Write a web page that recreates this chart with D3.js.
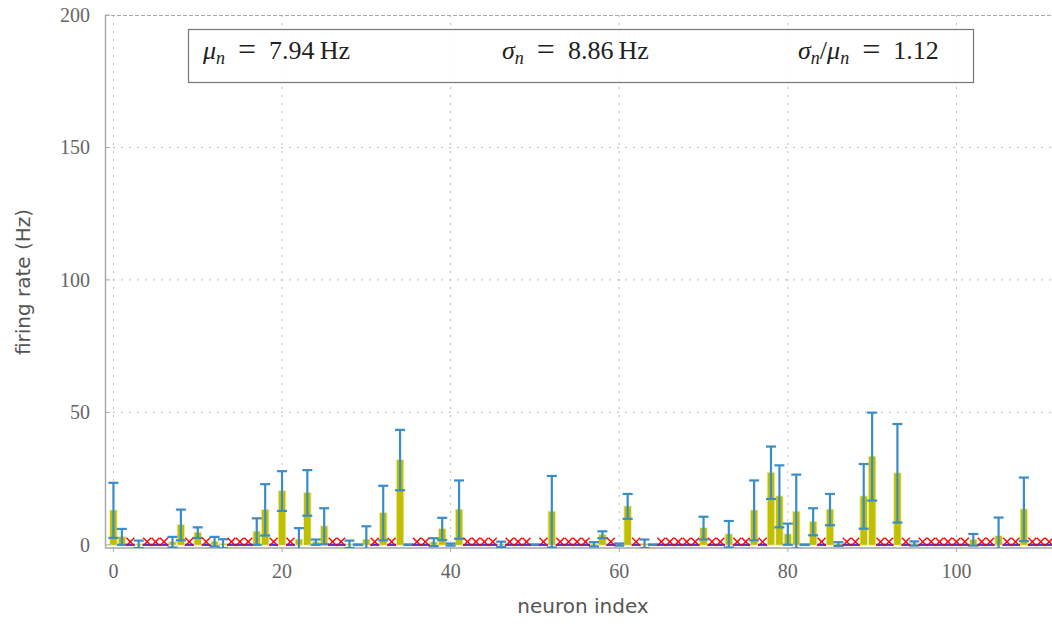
<!DOCTYPE html>
<html>
<head>
<meta charset="utf-8">
<script src="https://cdn.jsdelivr.net/npm/d3@7"></script>
<style>
  body { margin: 0; background: #fff; }
  .tick-label { font-family: "Liberation Serif", serif; font-size: 20px; fill: #666; }
  .axis-title { font-family: "DejaVu Sans", sans-serif; font-size: 20px; fill: #555; }
  .stat { font-family: "Liberation Serif", serif; font-size: 26px; fill: #222; }
</style>
</head>
<body>
<svg class="svg-main" width="1052" height="624"></svg>
<script>
// mean firing rate per neuron (Hz), index = neuron id
const rateMean = [
  13, 3, 0, 0.2, 0, 0, 0, 1, 7.5, 0,
  4.6, 0, 1.2, 0.4, 0, 0, 0, 5, 13.2, 0,
  20.3, 0, 2, 19.6, 1, 7, 0, 0, 0.2, 0.05,
  2, 0, 12, 0, 32, 0.05, 0, 0, 1, 6,
  0.1, 13.3, 0, 0, 0, 0, 0.2, 0, 0, 0,
  0.05, 0, 12.5, 0, 0, 0, 0, 0.2, 3.8, 0,
  0.1, 14.5, 0, 0.4, 0.05, 0, 0, 0, 0, 0,
  6.3, 0, 0, 4, 0, 0, 13, 0, 27.2, 18.3,
  4, 12.5, 0.05, 8.7, 0, 13.3, 0.3, 0, 0, 18.3,
  33.3, 0, 0, 27, 0, 0.5, 0, 0, 0, 0,
  0, 0, 1.9, 0, 0, 3.3, 0, 0, 13.4, 0,
  0, 0
];
// standard deviation per neuron (Hz)
const rateStd = [
  10.4, 3, 0, 1.4, 0, 0, 0, 2, 5.8, 0,
  2, 0, 1.8, 1.7, 0, 0, 0, 5, 9.7, 0,
  7.5, 0, 4.3, 8.6, 1, 6.8, 0, 0, 1.4, 0.1,
  5, 0, 10.3, 0, 11.4, 0.1, 0, 0, 1.5, 4.2,
  0.4, 11, 0, 0, 0, 0, 1, 0, 0, 0,
  0.1, 0, 13.5, 0, 0, 0, 0, 0.8, 1.3, 0,
  0.4, 4.7, 0, 1.6, 0.1, 0, 0, 0, 0, 0,
  4.3, 0, 0, 5, 0, 0, 11.3, 0, 9.9, 11.7,
  4, 14, 0.1, 5.1, 0, 5.9, 0.7, 0, 0, 12.2,
  16.6, 0, 0, 18.6, 0, 0.8, 0, 0, 0, 0,
  0, 0, 2.2, 0, 0, 7, 0, 0, 12, 0,
  0, 0
];
const xTicks = [0, 20, 40, 60, 80, 100];
const yTicks = [0, 50, 100, 150, 200];
const statNames = [["μ"], ["σ"], ["σ", "μ"]];
const statValues = ["7.94", "8.86", "1.12"];
const statUnits = ["Hz", "Hz", ""];

const svg = d3.select('.svg-main');
const width = Number(svg.attr("width"));

const x = d3.scaleLinear().domain([-1, 112]).range([105, 1057.6]);
const y = d3.scaleLinear().domain([-1.2, 200]).range([548, 15]);
const plotLeft = x(-1), plotBottom = y(-1.2), plotTop = y(200);

const neurons = rateMean.map((m, i) => ({ id: i, mean: m, std: rateStd[i] }));

svg.append("defs").append("clipPath").attr("id", "plot-clip")
  .append("rect")
    .attr("x", plotLeft).attr("y", plotTop)
    .attr("width", width - plotLeft).attr("height", plotBottom - plotTop);

// grid
const grid = svg.append("g").attr("class", "grid");
grid.selectAll("line.vx")
  .data(xTicks)
  .enter().append("line")
    .attr("x1", d => x(d)).attr("x2", d => x(d))
    .attr("y1", plotTop).attr("y2", plotBottom)
    .attr("stroke", "#bbb").attr("stroke-dasharray", "2,6");
grid.selectAll("line.hy")
  .data(yTicks.filter(d => d > 0 && d < 200))
  .enter().append("line")
    .attr("x1", plotLeft).attr("x2", width)
    .attr("y1", d => y(d)).attr("y2", d => y(d))
    .attr("stroke", "#bbb").attr("stroke-dasharray", "2,6");

// frame
svg.append("line")
  .attr("x1", plotLeft).attr("x2", width)
  .attr("y1", plotTop + 0.5).attr("y2", plotTop + 0.5)
  .attr("stroke", "#aaa").attr("stroke-dasharray", "4,2");
svg.append("line")
  .attr("x1", plotLeft + 0.5).attr("x2", plotLeft + 0.5)
  .attr("y1", plotTop).attr("y2", plotBottom)
  .attr("stroke", "#aaa").attr("stroke-width", 1.5);
svg.append("line")
  .attr("x1", plotLeft).attr("x2", width)
  .attr("y1", plotBottom).attr("y2", plotBottom)
  .attr("stroke", "#bbb").attr("stroke-width", 1.8);

// ticks
svg.selectAll("line.xt")
  .data(xTicks)
  .enter().append("line")
    .attr("x1", d => x(d)).attr("x2", d => x(d))
    .attr("y1", plotBottom).attr("y2", plotBottom + 4)
    .attr("stroke", "#aaa");
svg.selectAll("line.yt")
  .data(yTicks)
  .enter().append("line")
    .attr("x1", plotLeft).attr("x2", plotLeft + 5)
    .attr("y1", d => y(d)).attr("y2", d => y(d))
    .attr("stroke", "#aaa");

svg.selectAll("text.xl")
  .data(xTicks)
  .enter().append("text")
    .attr("class", "tick-label")
    .attr("x", d => x(d)).attr("y", 578)
    .attr("text-anchor", "middle")
    .text(d => d);
svg.selectAll("text.yl")
  .data(yTicks)
  .enter().append("text")
    .attr("class", "tick-label")
    .attr("x", 90).attr("y", d => y(d) + 7)
    .attr("text-anchor", "end")
    .text(d => d);

svg.append("text")
  .attr("class", "axis-title")
  .attr("x", 583).attr("y", 613)
  .attr("text-anchor", "middle")
  .text("neuron index");
svg.append("text")
  .attr("class", "axis-title")
  .attr("transform", "translate(30,282) rotate(-90)")
  .attr("text-anchor", "middle")
  .text("firing rate (Hz)");

// stats box
svg.append("rect")
  .attr("x", 188.5).attr("y", 29.5)
  .attr("width", 785).attr("height", 53)
  .attr("fill", "#fff").attr("fill-opacity", 0.85)
  .attr("stroke", "#777").attr("stroke-width", 1.2);

const statX = [203, 502, 798];
statNames.forEach((names, k) => {
  const t = svg.append("text").attr("class", "stat")
    .attr("x", statX[k]).attr("y", 59);
  let shift = 0;
  names.forEach((nm, j) => {
    if (j > 0) t.append("tspan").attr("dy", -shift).text("/"), shift = 0;
    t.append("tspan").attr("font-style", "italic").attr("dy", -shift).text(nm);
    t.append("tspan").attr("font-style", "italic")
      .attr("font-size", "18px").attr("dy", 5).text("n");
    shift = 5;
  });
  t.append("tspan").attr("dy", -shift).text("\u2002");
  t.append("tspan").attr("font-size", "32px").attr("dy", 1).text("=");
  t.append("tspan").attr("dy", -1)
    .text("\u2002" + statValues[k] + (statUnits[k] ? "\u2009" + statUnits[k] : ""));
});

// data marks
const plot = svg.append("g").attr("clip-path", "url(#plot-clip)");
const active = neurons.filter(d => d.mean > 0);
const silent = neurons.filter(d => d.mean === 0);

plot.selectAll("rect.bar")
  .data(active)
  .enter().append("rect")
    .attr("x", d => x(d.id) - 3.3)
    .attr("width", 6.6)
    .attr("y", d => y(d.mean))
    .attr("height", d => y(0) - y(d.mean))
    .attr("fill", "#c0c000")
    .attr("stroke", "#c0c000").attr("stroke-opacity", 0.25).attr("stroke-width", 2);

const err = plot.selectAll("g.err")
  .data(active)
  .enter().append("g")
    .attr("stroke", "#3a8dc6").attr("stroke-width", 2.2);
err.append("line")
  .attr("x1", d => x(d.id)).attr("x2", d => x(d.id))
  .attr("y1", d => y(d.mean + d.std))
  .attr("y2", d => y(d.mean - d.std));
err.append("line")
  .attr("x1", d => x(d.id) - 5).attr("x2", d => x(d.id) + 5)
  .attr("y1", d => y(d.mean + d.std)).attr("y2", d => y(d.mean + d.std));
err.append("line")
  .attr("x1", d => x(d.id) - 5).attr("x2", d => x(d.id) + 5)
  .attr("y1", d => y(d.mean - d.std)).attr("y2", d => y(d.mean - d.std));

plot.selectAll("line.zero")
  .data(silent)
  .enter().append("line")
    .attr("x1", d => x(d.id) - 4.5).attr("x2", d => x(d.id) + 4.5)
    .attr("y1", y(0)).attr("y2", y(0))
    .attr("stroke", "#2a3cff").attr("stroke-width", 2.2);

const cross = plot.selectAll("g.cross")
  .data(silent)
  .enter().append("g")
    .attr("transform", d => `translate(${x(d.id)},${y(0) - 3})`)
    .attr("stroke", "#ff0000").attr("stroke-width", 1.4);
cross.append("line").attr("x1", -4).attr("y1", -4).attr("x2", 4).attr("y2", 4);
cross.append("line").attr("x1", -4).attr("y1", 4).attr("x2", 4).attr("y2", -4);
</script>
</body>
</html>
